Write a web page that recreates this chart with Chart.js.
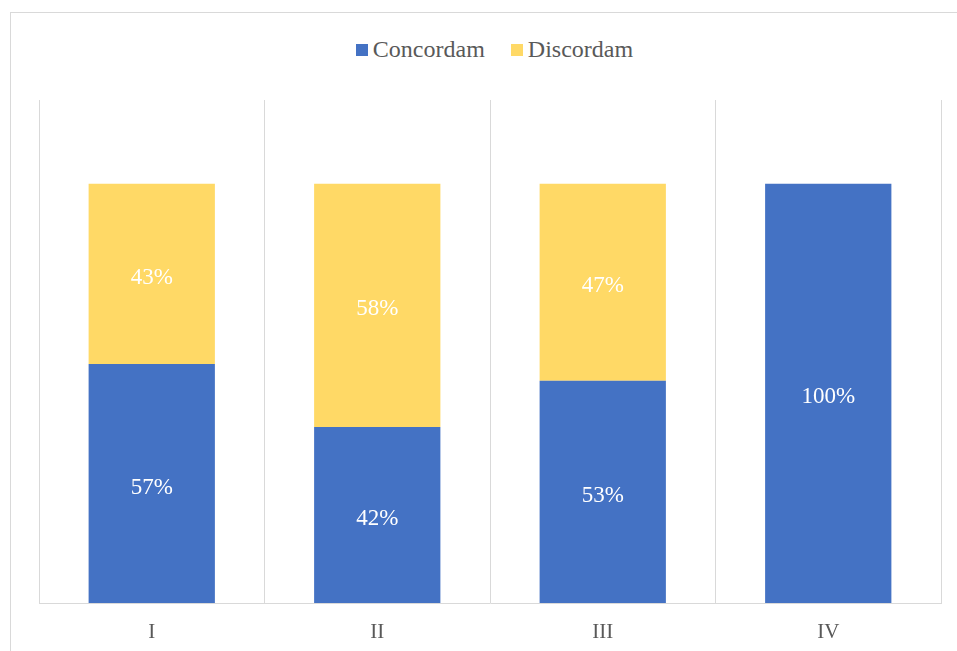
<!DOCTYPE html>
<html>
<head>
<meta charset="utf-8">
<script src="https://cdn.jsdelivr.net/npm/chart.js@4"></script>
<style>
  html, body { margin: 0; padding: 0; background: #fff; }
  #wrap { position: relative; width: 957px; height: 651px; }
  #frame { position: absolute; left: 10px; top: 12px; right: -10px; bottom: -10px;
           border-left: 1px solid #d9d9d9; border-top: 1px solid #d9d9d9; }
  #legend { position: absolute; left: 32px; right: 0; top: 36px; display: flex; justify-content: center;
            font-family: "Liberation Serif", serif; font-size: 24px; color: #595959; }
  #legend span.item { display: flex; align-items: center; margin: 0 13px; }
  #legend i { display: inline-block; width: 12px; height: 12px; margin-right: 5px; }
  canvas { position: absolute; left: 0; top: 0; }
</style>
</head>
<body>
<div id="wrap">
  <div id="frame"></div>
  <div id="legend"></div>
  <canvas id="chart" width="957" height="651"></canvas>
</div>
<script>
const categories = ['I', 'II', 'III', 'IV'];
const concordam = [57, 42, 53, 100];
const discordam = [43, 58, 47, 0];
const seriesNames = ['Concordam', 'Discordam'];
const seriesColors = ['#4472C4', '#FFD966'];
const serif = '"Liberation Serif", serif';

// legend above the plot
document.getElementById('legend').innerHTML = seriesNames
  .map((n, i) => `<span class="item"><i style="background:${seriesColors[i]}"></i>${n}</span>`)
  .join('');

// white percentage labels in the middle of each segment
const valueLabels = {
  id: 'valueLabels',
  afterDatasetsDraw(chart) {
    const ctx = chart.ctx;
    ctx.save();
    ctx.font = '23px ' + serif;
    ctx.fillStyle = '#ffffff';
    ctx.textAlign = 'center';
    ctx.textBaseline = 'middle';
    chart.data.datasets.forEach((ds, di) => {
      chart.getDatasetMeta(di).data.forEach((bar, i) => {
        const v = ds.data[i];
        if (!v) return;
        ctx.fillText(v + '%', bar.x, (bar.y + bar.base) / 2 + 4);
      });
    });
    ctx.restore();
  }
};

new Chart(document.getElementById('chart'), {
  type: 'bar',
  data: {
    labels: categories,
    datasets: [
      { label: seriesNames[0], data: concordam, backgroundColor: seriesColors[0] },
      { label: seriesNames[1], data: discordam, backgroundColor: seriesColors[1] },
    ]
  },
  options: {
    responsive: false, animation: false,
    layout: { padding: { top: 100, left: 39, right: 16, bottom: 0 } },
    datasets: { bar: { categoryPercentage: 1, barPercentage: 0.56 } },
    plugins: { legend: { display: false }, tooltip: { enabled: false } },
    scales: {
      x: {
        stacked: true,
        afterFit(scale) { scale.height = 48; },
        grid: { offset: true, color: '#d9d9d9', drawTicks: false },
        border: { color: '#d9d9d9' },
        ticks: { color: '#595959', padding: 17, font: { family: serif, size: 21 } }
      },
      y: { stacked: true, display: false, min: 0, max: 120 }
    }
  },
  plugins: [valueLabels]
});
</script>
</body>
</html>
